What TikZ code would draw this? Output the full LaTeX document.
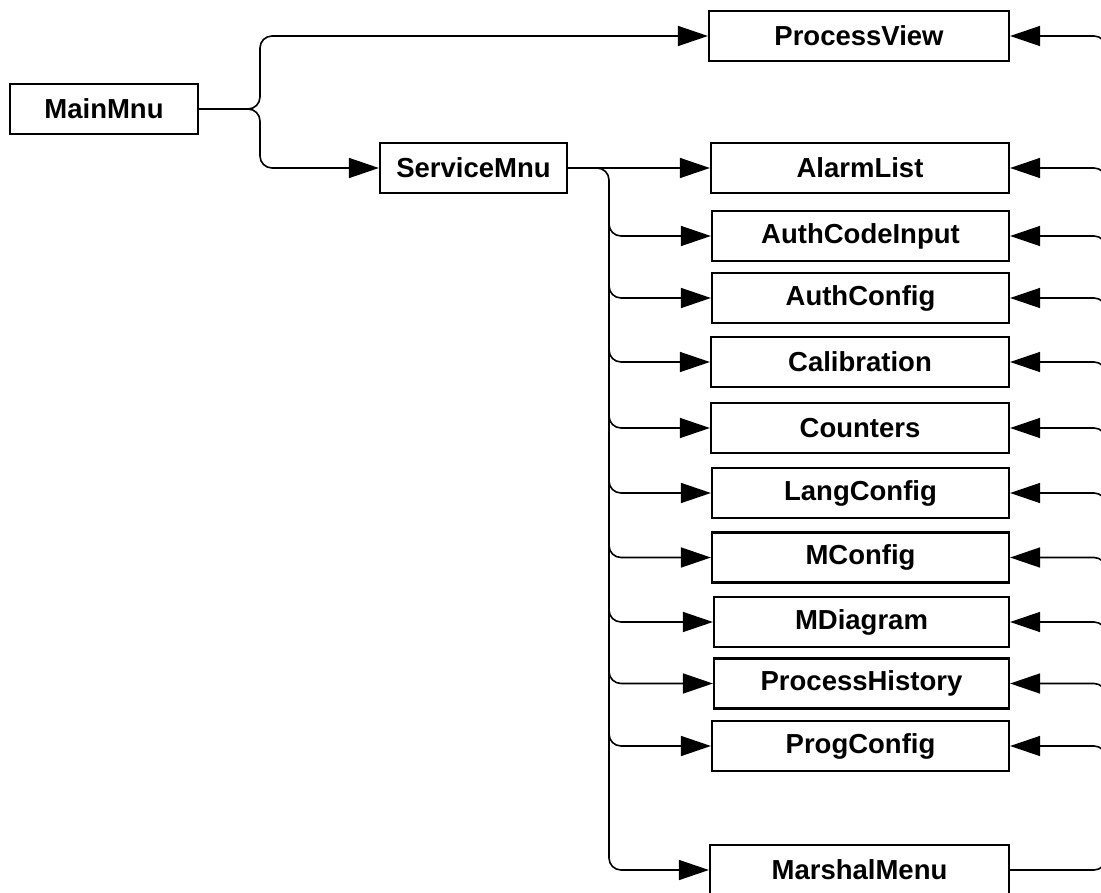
\documentclass[tikz,border=0pt]{standalone}
\usepackage{fontspec}
\setmainfont{Liberation Sans}
\usetikzlibrary{arrows.meta}
\begin{document}
\begin{tikzpicture}[x=1pt,y=-1pt,
  box/.style={draw, line width=2.2pt, inner sep=0pt, minimum height=50pt,
    font=\fontsize{27.5}{33}\selectfont\bfseries},
  conn/.style={line width=1.6pt, rounded corners=12pt},
  arr/.style={conn, -{Triangle[length=30pt,width=20pt]}}]
\useasboundingbox (0,0) rectangle (1101,893);
\clip (0,0) rectangle (1101,893);
% nodes
\node[box, minimum width=188pt] (main) at (104,109) {MainMnu};
\node[box, minimum width=187pt] (svc) at (473.5,168) {ServiceMnu};
\node[box, minimum width=300pt] (pv) at (859,36) {ProcessView};
\node[box, minimum width=298pt] (al) at (860,168) {AlarmList};
\node[box, minimum width=297pt] (aci) at (860.5,236) {AuthCodeInput};
\node[box, minimum width=297pt] (ac) at (860.5,298) {AuthConfig};
\node[box, minimum width=298pt] (cal) at (860,362) {Calibration};
\node[box, minimum width=298pt] (cnt) at (860,428) {Counters};
\node[box, minimum width=297pt] (lc) at (860.5,493) {LangConfig};
\node[box, minimum width=297pt] (mc) at (860.5,557.5) {MConfig};
\node[box, minimum width=295pt] (md) at (861.5,622) {MDiagram};
\node[box, minimum width=295pt] (ph) at (861.5,683.5) {ProcessHistory};
\node[box, minimum width=297pt] (pc) at (860.5,746) {ProgConfig};
\node[box, minimum width=299pt] (mm) at (859.5,870) {MarshalMenu};
\coordinate (mbus) at (260,0);
\coordinate (sbus) at (609,0);
\coordinate (rbus) at (1106,0);
% MainMnu connectors
\draw[arr] (main.east) -| (mbus |- pv.west) -- (pv.west);
\draw[arr] (main.east) -| (mbus |- svc.west) -- (svc.west);
% ServiceMnu connectors
\draw[arr] (svc.east) -- (al.west);
\draw[arr] (svc.east) -| (sbus |- mm.west) -- (mm.west);
\foreach \n in {aci,ac,cal,cnt,lc,mc,md,ph,pc}{
  \draw[arr] (sbus |- \n.north) |- (\n.west);
}
% right-side return connectors
\foreach \n in {pv,al,aci,ac,cal,cnt,lc,mc,md,ph,pc}{
  \draw[arr] (rbus |- \n.south) |- (\n.east);
}
\draw[conn] (mm.east) -| (rbus |- mm.north);
\end{tikzpicture}
\end{document}
